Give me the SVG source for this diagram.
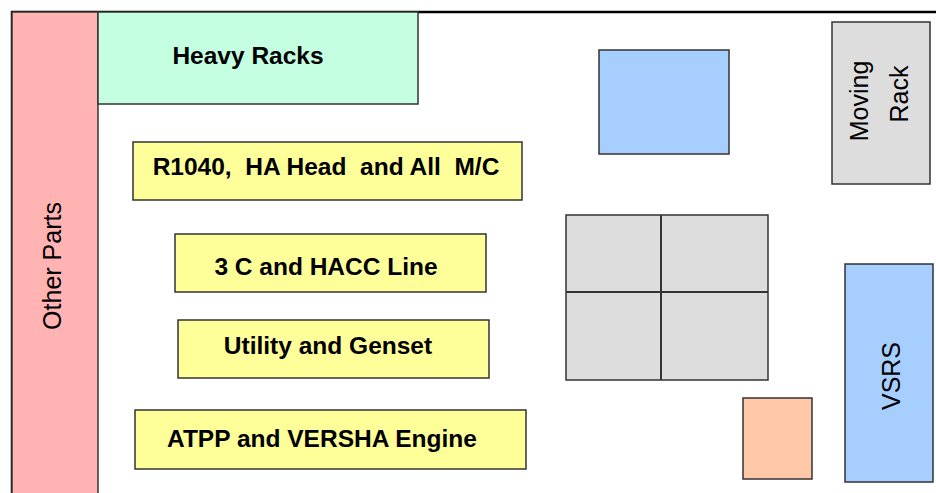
<svg xmlns="http://www.w3.org/2000/svg" width="936" height="493" viewBox="0 0 936 493">
<style>
.b{stroke:#333;stroke-width:1.5}
.t{font-family:"Liberation Sans",Arial,sans-serif;font-size:25px;fill:#000;text-anchor:middle;white-space:pre}
.bold{font-weight:bold;font-size:24.5px}
.y{fill:#FFFF99}
.g{fill:#DDDDDD}
.bl{fill:#A6CFFF}
</style>
<rect width="936" height="493" fill="#fff"/>
<g id="frame"><path d="M12,493 V12 H936" fill="none" stroke="#000" stroke-width="2.5"/></g>
<g id="other-parts"><rect class="b" x="12" y="12" width="86" height="490" fill="#FFB3B3"/><text class="t" transform="translate(61,266) rotate(-90)">Other Parts</text></g>
<g id="heavy-racks"><rect class="b" x="98" y="12" width="320" height="92" fill="#C4FFE1"/><text class="t bold" x="248" y="64">Heavy Racks</text></g>
<g id="r1040"><rect class="b y" x="133" y="142" width="389" height="58"/><text class="t bold" x="326" y="175" xml:space="preserve">R1040,  HA Head  and All  M/C</text></g>
<g id="hacc"><rect class="b y" x="175" y="234" width="311" height="58"/><text class="t bold" x="326" y="275">3 C and HACC Line</text></g>
<g id="utility"><rect class="b y" x="178" y="320" width="311" height="58"/><text class="t bold" x="328" y="354">Utility and Genset</text></g>
<g id="atpp"><rect class="b y" x="135" y="410" width="391" height="59"/><text class="t bold" x="322" y="447">ATPP and VERSHA Engine</text></g>
<g id="blue-box"><rect class="b bl" x="599" y="50" width="130" height="104"/></g>
<g id="moving-rack"><rect class="b g" x="832" y="22" width="98" height="162"/><text class="t" transform="translate(868,101) rotate(-90)">Moving</text><text class="t" transform="translate(908,94) rotate(-90)">Rack</text></g>
<g id="grid"><rect class="b g" x="566" y="215" width="202" height="165" stroke-width="2"/><path d="M661,215 V380 M566,292 H768" stroke="#333" stroke-width="2"/></g>
<g id="vsrs"><rect class="b bl" x="845" y="264" width="88" height="218"/><text class="t" transform="translate(900,376) rotate(-90)">VSRS</text></g>
<g id="orange-box"><rect class="b" x="743" y="398" width="69" height="81" fill="#FFC8A8"/></g>
<g id="connectors"/>
</svg>
